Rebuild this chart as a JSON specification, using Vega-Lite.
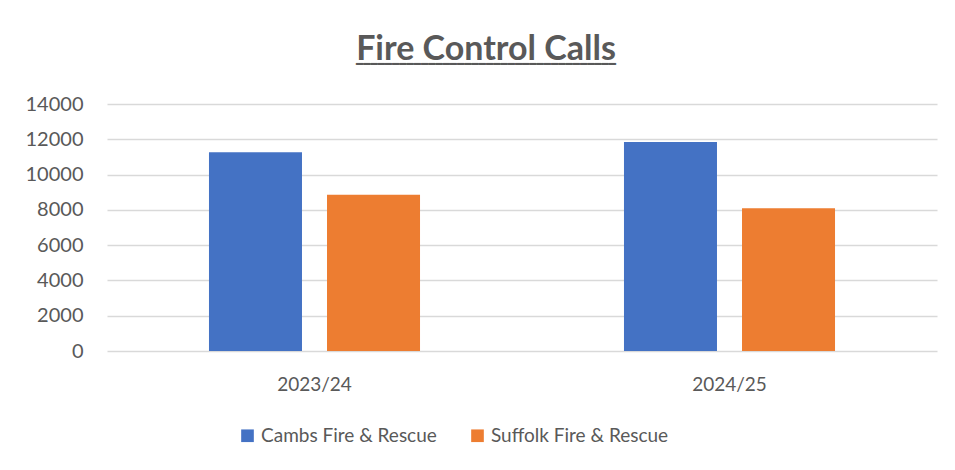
{
  "$schema": "https://vega.github.io/schema/vega-lite/v6.json",
  "width": 830,
  "height": 247,
  "autosize": {"type": "none"},
  "padding": {"left": 107, "top": 104, "right": 18, "bottom": 119},
  "background": "white",
  "title": {
    "text": "Fire Control Calls",
    "subtitle": "━━━━━━━━━━━━━━━━━━━━━━━━━━━━━━━━━━━━",
    "font": "Lato",
    "fontSize": 34,
    "fontWeight": "bold",
    "color": "#595959",
    "subtitleFont": "DejaVu Sans",
    "subtitleFontSize": 12,
    "subtitleColor": "#595959",
    "subtitlePadding": -8,
    "anchor": "middle",
    "frame": "group",
    "offset": 24,
    "dx": -36
  },
  "data": {
    "values": [
      {"year": "2023/24", "service": "Cambs Fire & Rescue", "calls": 11270},
      {"year": "2023/24", "service": "Suffolk Fire & Rescue", "calls": 8850},
      {"year": "2024/25", "service": "Cambs Fire & Rescue", "calls": 11840},
      {"year": "2024/25", "service": "Suffolk Fire & Rescue", "calls": 8090}
    ]
  },
  "mark": {"type": "bar"},
  "encoding": {
    "x": {
      "field": "year",
      "type": "nominal",
      "scale": {"paddingInner": 0, "paddingOuter": 0},
      "axis": {
        "title": null,
        "labelAngle": 0,
        "labelFont": "Lato",
        "labelFontSize": 19,
        "labelColor": "#595959",
        "ticks": false,
        "domain": false,
        "labelPadding": 24
      }
    },
    "xOffset": {
      "field": "service",
      "type": "nominal",
      "scale": {"paddingInner": 0.212, "paddingOuter": 0.864}
    },
    "y": {
      "field": "calls",
      "type": "quantitative",
      "scale": {"domain": [0, 14000], "nice": false},
      "axis": {
        "title": null,
        "values": [0, 2000, 4000, 6000, 8000, 10000, 12000, 14000],
        "format": "d",
        "labelFont": "Lato",
        "labelFontSize": 20,
        "labelColor": "#595959",
        "ticks": false,
        "domain": false,
        "labelPadding": 24,
        "gridColor": "#D9D9D9",
        "gridWidth": 1.5
      }
    },
    "color": {
      "field": "service",
      "type": "nominal",
      "scale": {
        "domain": ["Cambs Fire & Rescue", "Suffolk Fire & Rescue"],
        "range": ["#4472C4", "#ED7D31"]
      },
      "legend": {
        "title": null,
        "orient": "none",
        "legendX": 131,
        "legendY": 322,
        "direction": "horizontal",
        "labelFont": "Lato",
        "labelFontSize": 19,
        "labelColor": "#595959",
        "labelLimit": 400,
        "symbolType": "square",
        "symbolSize": 160,
        "symbolStrokeWidth": 0,
        "columnPadding": 31,
        "labelOffset": 4
      }
    }
  },
  "config": {
    "view": {"stroke": null}
  }
}
